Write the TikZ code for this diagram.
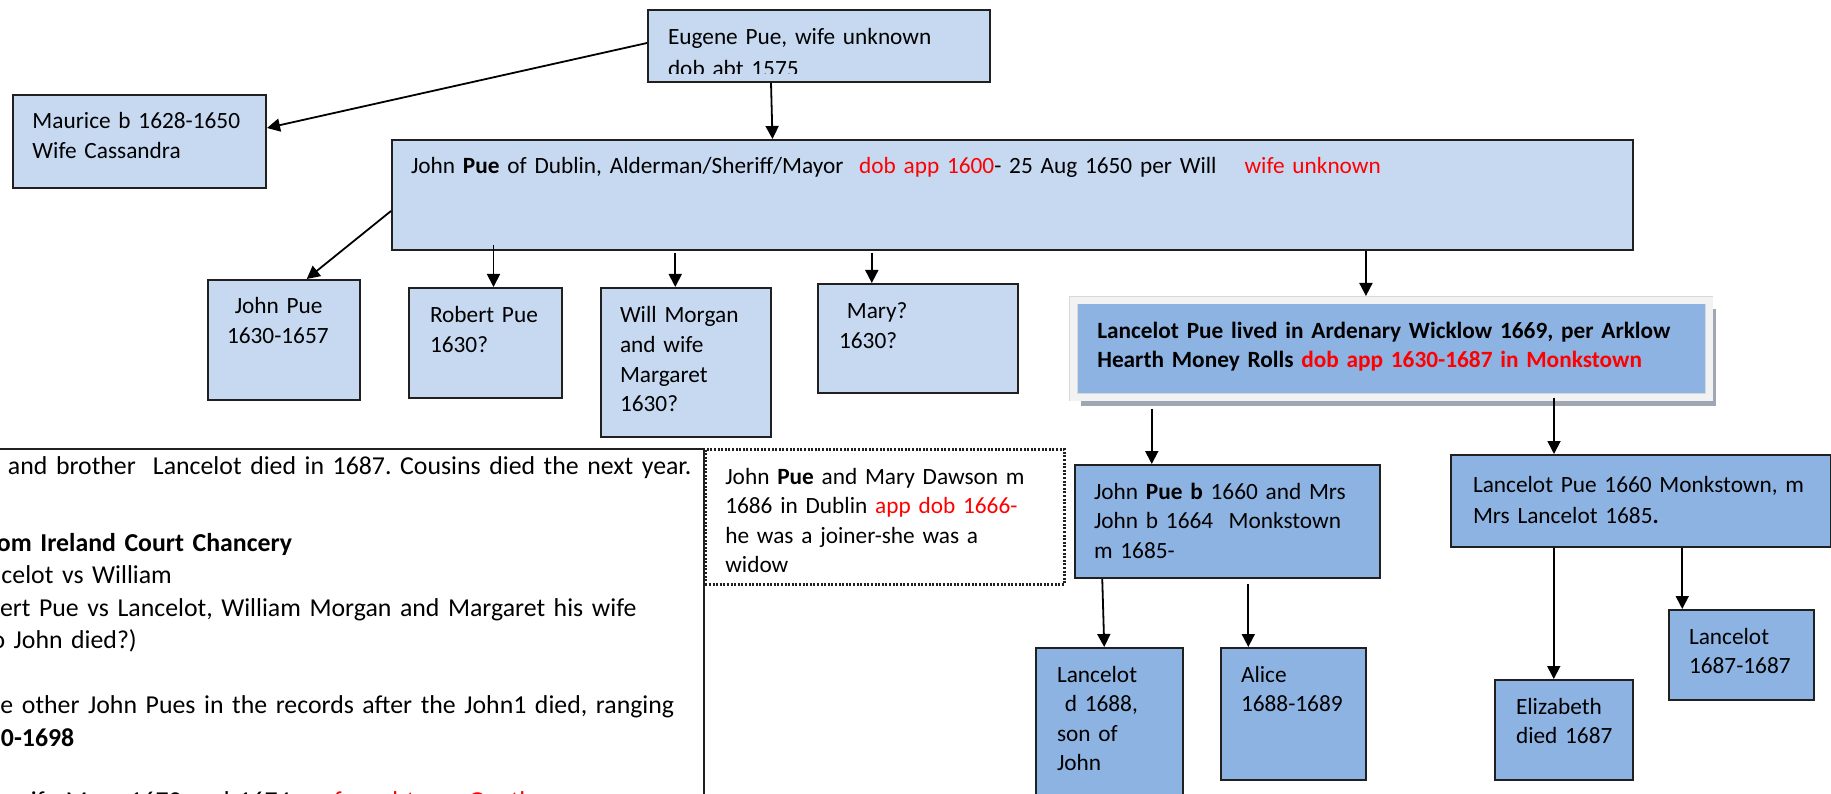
\documentclass[tikz,border=0pt]{standalone}
\usepackage{fontspec}
\setmainfont{Carlito}
\usepackage{xcolor}
\usetikzlibrary{arrows.meta}
\usetikzlibrary{shadows}
\frenchspacing

\definecolor{paleblue}{RGB}{198,217,241}
\definecolor{midblue}{RGB}{141,179,226}
\definecolor{boxline}{RGB}{32,32,32}
\definecolor{shadowgrey}{RGB}{160,167,178}

\begin{document}
\begin{tikzpicture}[x=1pt,y=-1pt,
	lskip/.style={execute at begin node={\leftskip=#1\relax}},
	familybox/.style={
		draw=boxline, line width=2pt, anchor=north west, inner sep=0pt,
		align=left, font=\fontsize{23.3}{29.5}\selectfont, lskip=20pt
	}]
	\useasboundingbox (0,0) rectangle (1831,794);
	\clip (0,0) rectangle (1831,794);
	\tikzstyle{lightbox} = [familybox,fill=paleblue]
	\tikzstyle{darkbox} = [familybox,fill=midblue]
	\tikzstyle{descent} = [->,>={Triangle[length=13pt,width=13pt]},line width=1.8pt]
	
	% notes, running off the page on the left and bottom
	\node[familybox,fill=white,text width=723pt,text height=25pt,text depth=357pt,
		font=\fontsize{25.8}{32.5}\selectfont] (notes) at (-20,448) {%
		\hspace{7pt}and brother~~Lancelot died in 1687. Cousins died the next year.\\[44.5pt]
		\hspace{-4pt}\textbf{om Ireland Court Chancery}\\
		\hspace{0.5pt}celot vs William\\
		\hspace{-1pt}ert Pue vs Lancelot, William Morgan and Margaret his wife\\
		\hspace{-9.5pt}o John died?)\\[32.5pt]
		\hspace{-0.5pt}e other John Pues in the records after the John1 died, ranging\\
		\textbf{0-1698}\\[31pt]
		\hspace{30pt}ife Mary 1672 and 1674\hspace{22pt}\textcolor{red}{referred to as Gentleman}};
	\node[familybox,fill=white,dash pattern=on 2pt off 1.6pt,line width=2.6pt,
		text width=359pt,text height=35pt,text depth=100pt] (marynote) at (704,448)
		{John \textbf{Pue} and Mary Dawson m\\1686 in Dublin \textcolor{red}{app dob 1666-}\\he was a joiner-she was a\\widow};
	
	% top generations
	\node[lightbox,text width=342pt,text height=35pt,text depth=37pt] (eugene) at (647,9) {};
	\begin{scope}
		\clip (eugene.north west) rectangle ([yshift=9pt]eugene.south east);
		\node[familybox,draw=none,text width=342pt,text height=35pt,text depth=37pt,
			font=\fontsize{23.3}{31.5}\selectfont] (eugenetext) at (647,9) {Eugene Pue, wife unknown\\dob abt 1575};
	\end{scope}
	\node[lightbox,text width=253.5pt,text height=34pt,text depth=59pt] (maurice) at (11.5,94) {Maurice b 1628-1650\\Wife Cassandra};
	\node[lightbox,text width=1241pt,text height=34pt,text depth=76pt,lskip=19pt] (john) at (391,139)
		{John \textbf{Pue} of Dublin, Alderman/Sheriff/Mayor~~\textcolor{red}{dob app 1600}- 25 Aug 1650 per Will\hspace{28pt}\textcolor{red}{wife unknown}};
	
	% children of John
	\node[lightbox,text width=152.5pt,text height=34pt,text depth=86pt,lskip=19.5pt] (johnpue) at (206.5,279) {~John Pue\\1630-1657};
	\node[lightbox,text width=153pt,text height=35pt,text depth=75pt,lskip=21pt] (robert) at (408,287) {Robert Pue\\1630?};
	\node[lightbox,text width=170.5pt,text height=35pt,text depth=114pt,lskip=19.5pt] (will) at (599.5,287) {Will Morgan\\and wife\\Margaret\\1630?};
	\node[lightbox,text width=200.4pt,text height=35pt,text depth=74pt,lskip=21.5pt] (mary) at (816.6,283) {~Mary?\\1630?};
	\node[darkbox,draw=gray!30,line width=0.6pt,double=gray!10,double distance=7pt,
		drop shadow={shadow xshift=7pt,shadow yshift=-9pt,fill=shadowgrey,opacity=1},
		text width=635.75pt,text height=38pt,text depth=59pt,lskip=23.75pt] (lancelot) at (1073.25,300)
		{\textbf{Lancelot Pue lived in Ardenary Wicklow 1669, per Arklow}\\\textbf{Hearth Money Rolls \textcolor{red}{dob app 1630-1687 in Monkstown}}};
	
	% Lancelot's sons and grandchildren
	\node[darkbox,text width=305.5pt,text height=34pt,text depth=79pt,lskip=19.5pt] (johnb) at (1073.5,464)
		{John \textbf{Pue b} 1660 and Mrs\\John b 1664~~Monkstown\\m 1685-};
	\node[darkbox,text width=380pt,text height=37pt,text depth=55pt,lskip=22pt,
		font=\fontsize{23.3}{31}\selectfont] (lancelot2) at (1450,454) {Lancelot Pue 1660 Monkstown, m\\Mrs Lancelot 1685\textbf{.}};
	\node[darkbox,text width=146.5pt,text height=34pt,text depth=149pt,lskip=21pt] (lancelotd) at (1035,647) {Lancelot\\~d 1688,\\son of\\John};
	\node[darkbox,text width=145.4pt,text height=34pt,text depth=98pt,lskip=20.4pt] (alice) at (1219.6,647) {Alice\\1688-1689};
	\node[darkbox,text width=138.5pt,text height=34pt,text depth=66pt,lskip=21.5pt] (elizabeth) at (1493.5,679) {Elizabeth\\died 1687};
	\node[darkbox,text width=145.5pt,text height=34pt,text depth=56pt,lskip=20.5pt] (lancelotb) at (1667.5,609) {Lancelot\\1687-1687};
	
	\draw ([yshift=3pt]eugene.west) edge [descent] ([yshift=13.5pt]maurice.east);
	\draw ([xshift=-48pt]eugene.south) edge [descent] ([xshift=-240pt]john.north);
	
	\draw ([yshift=-16pt]john.west) edge [descent] ([xshift=23pt]johnpue.north);
	\draw ([xshift=8pt,yshift=6pt]robert.north |- john.south) edge [descent] ([xshift=8pt]robert.north);
	\draw ([xshift=-10.5pt,yshift=-2pt]will.north |- john.south) edge [descent] ([xshift=-10.5pt]will.north);
	\draw ([xshift=-46pt,yshift=-2pt]mary.north |- john.south) edge [descent] ([xshift=-46pt]mary.north);
	\draw ([xshift=-25.5pt]lancelot.north |- john.south) edge [descent] ([xshift=-25.5pt,yshift=4pt]lancelot.north);
	
	\draw ([xshift=-75.5pt,yshift=-11pt]johnb.north |- lancelot.south) edge [descent] ([xshift=-75.5pt]johnb.north);
	\draw ([xshift=-87pt]lancelot2.north |- lancelot.south) edge [descent] ([xshift=-87pt]lancelot2.north);
	
	\draw ([xshift=-125pt]johnb.south) edge [descent] ([xshift=-5pt]lancelotd.north);
	\draw ([xshift=-45pt,yshift=-5pt]alice.north |- johnb.south) edge [descent] ([xshift=-45pt]alice.north);
	\draw ([xshift=-10pt]elizabeth.north |- lancelot2.south) edge [descent] ([xshift=-10pt]elizabeth.north);
	\draw ([xshift=-59pt]lancelotb.north |- lancelot2.south) edge [descent] ([xshift=-59pt]lancelotb.north);
	
\end{tikzpicture}
\end{document}
